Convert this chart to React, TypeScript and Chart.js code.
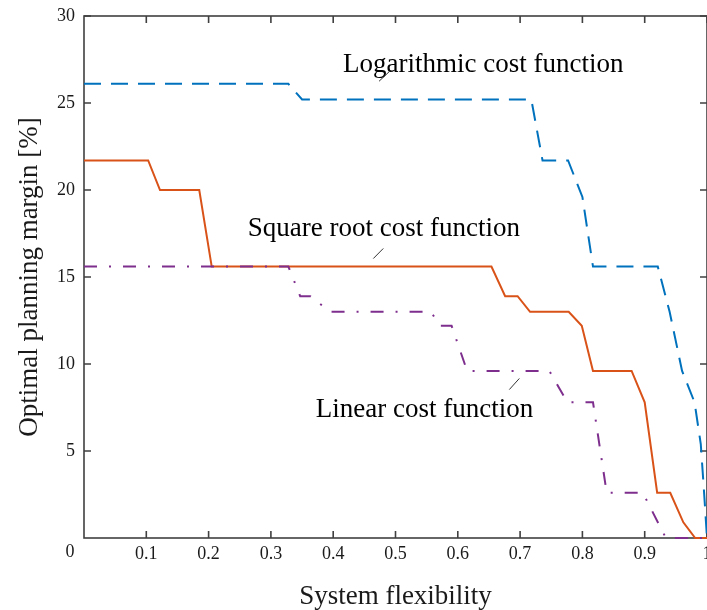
import React, { useEffect, useRef } from "react";
import { Chart, registerables } from "chart.js";

Chart.register(...registerables);

// System flexibility tick positions and optimal planning margin ticks
const flexTicks = [0.1, 0.2, 0.3, 0.4, 0.5, 0.6, 0.7, 0.8, 0.9, 1];
const marginTicks = [5, 10, 15, 20, 25, 30];

// Logarithmic cost function
const logX = [0, 0.328, 0.35, 0.718, 0.736, 0.777, 0.8, 0.817, 0.921, 0.94, 0.96, 0.98, 0.99, 0.995, 1.0];
const logY = [26.1, 26.1, 25.2, 25.2, 21.7, 21.7, 19.6, 15.6, 15.6, 13.0, 9.6, 7.8, 5.4, 2.8, 0];

// Square root cost function
const sqrtX = [0, 0.103, 0.122, 0.185, 0.205, 0.654, 0.676, 0.696, 0.716, 0.778, 0.799, 0.817, 0.879, 0.9, 0.92, 0.941, 0.962, 0.981, 1.0];
const sqrtY = [21.7, 21.7, 20.0, 20.0, 15.6, 15.6, 13.9, 13.9, 13.0, 13.0, 12.2, 9.6, 9.6, 7.8, 2.6, 2.6, 0.9, 0, 0];

// Linear cost function
const linX = [0, 0.328, 0.347, 0.363, 0.395, 0.557, 0.571, 0.59, 0.615, 0.747, 0.776, 0.817, 0.839, 0.897, 0.934, 1.0];
const linY = [15.6, 15.6, 13.9, 13.9, 13.0, 13.0, 12.2, 12.2, 9.6, 9.6, 7.8, 7.8, 2.6, 2.6, 0, 0];

const SERIF = '"Liberation Serif", "Times New Roman", Times, serif';
const AXIS_COLOR = "#404040";
const TEXT_COLOR = "#1a1a1a";
const TICK_LEN = 7;

const BLUE = "#0072BD";
const ORANGE = "#D95319";
const PURPLE = "#7E2F8E";

// Curve labels with short leader lines, placed in data units
const curveNotes = [
  { text: "Logarithmic cost function", at: [0.4157, 26.78], lead: [[0.4736, 26.25], [0.4896, 26.79]] },
  { text: "Square root cost function", at: [0.263, 17.35], lead: [[0.4644, 16.06], [0.4804, 16.64]] },
  { text: "Linear cost function", at: [0.372, 6.96], lead: [[0.6827, 8.53], [0.6988, 9.17]] },
];

const toPoints = (xs: number[], ys: number[]) => xs.map((x, i) => ({ x, y: ys[i] }));

const framePlugin = {
  id: "frame",
  beforeDatasetsDraw(chart: any) {
    const { ctx, chartArea, scales } = chart;
    const { left, right, top, bottom } = chartArea;
    const xs = scales.x;
    const ys = scales.y;
    ctx.save();
    ctx.strokeStyle = AXIS_COLOR;
    ctx.lineWidth = 1.6;
    ctx.strokeRect(left, top, right - left, bottom - top);
    ctx.beginPath();
    for (const v of flexTicks) {
      const px = xs.getPixelForValue(v);
      ctx.moveTo(px, bottom);
      ctx.lineTo(px, bottom - TICK_LEN);
      ctx.moveTo(px, top);
      ctx.lineTo(px, top + TICK_LEN);
    }
    for (const v of marginTicks) {
      const py = ys.getPixelForValue(v);
      ctx.moveTo(left, py);
      ctx.lineTo(left + TICK_LEN, py);
      ctx.moveTo(right, py);
      ctx.lineTo(right - TICK_LEN, py);
    }
    ctx.stroke();
    // shared origin label
    ctx.fillStyle = TEXT_COLOR;
    ctx.font = `18px ${SERIF}`;
    ctx.textAlign = "center";
    ctx.textBaseline = "middle";
    ctx.fillText("0", left - 14, bottom + 14);
    ctx.restore();
  },
};

const notesPlugin = {
  id: "curveNotes",
  afterDatasetsDraw(chart: any) {
    const { ctx, scales } = chart;
    const xs = scales.x;
    const ys = scales.y;
    ctx.save();
    ctx.font = `27px ${SERIF}`;
    ctx.fillStyle = "#000";
    ctx.textAlign = "left";
    ctx.textBaseline = "alphabetic";
    ctx.strokeStyle = "#333";
    ctx.lineWidth = 1;
    for (const n of curveNotes) {
      ctx.fillText(n.text, xs.getPixelForValue(n.at[0]), ys.getPixelForValue(n.at[1]));
      ctx.beginPath();
      ctx.moveTo(xs.getPixelForValue(n.lead[0][0]), ys.getPixelForValue(n.lead[0][1]));
      ctx.lineTo(xs.getPixelForValue(n.lead[1][0]), ys.getPixelForValue(n.lead[1][1]));
      ctx.stroke();
    }
    ctx.restore();
  },
};

export default function App() {
  const canvasRef = useRef<HTMLCanvasElement | null>(null);

  useEffect(() => {
    const canvas = canvasRef.current;
    if (!canvas) return;
    const chart = new Chart(canvas, {
      type: "line",
      data: {
        datasets: [
          {
            label: "Linear cost function",
            data: toPoints(linX, linY),
            borderColor: PURPLE,
            borderWidth: 2,
            borderDash: [13, 12, 2, 12],
            pointRadius: 0,
            tension: 0,
            fill: false,
            clip: 4,
            order: 0,
          },
          {
            label: "Square root cost function",
            data: toPoints(sqrtX, sqrtY),
            borderColor: ORANGE,
            borderWidth: 2,
            pointRadius: 0,
            tension: 0,
            fill: false,
            clip: 4,
            order: 1,
          },
          {
            label: "Logarithmic cost function",
            data: toPoints(logX, logY),
            borderColor: BLUE,
            borderWidth: 2,
            borderDash: [17, 10],
            pointRadius: 0,
            tension: 0,
            fill: false,
            clip: 4,
            order: 2,
          },
        ],
      },
      options: {
        animation: false,
        responsive: false,
        devicePixelRatio: 1,
        layout: { padding: { top: 16, right: 0, bottom: 0, left: 0 } },
        plugins: {
          legend: { display: false },
          tooltip: { enabled: false },
        },
        scales: {
          x: {
            type: "linear",
            min: 0,
            max: 1,
            afterBuildTicks: (s: any) => {
              s.ticks = flexTicks.map((v) => ({ value: v }));
            },
            afterFit: (s: any) => {
              s.height = 72;
              s.paddingLeft = 0;
              s.paddingRight = 0;
            },
            ticks: {
              autoSkip: false,
              maxRotation: 0,
              padding: 5,
              color: TEXT_COLOR,
              font: { family: SERIF, size: 18 },
              callback: (v: any) => String(v),
            },
            grid: { display: false, drawTicks: false },
            border: { display: false },
            title: {
              display: true,
              text: "System flexibility",
              color: TEXT_COLOR,
              font: { family: SERIF, size: 27, lineHeight: 1 },
              padding: { top: 0, bottom: 0 },
            },
          },
          y: {
            type: "linear",
            min: 0,
            max: 30,
            afterBuildTicks: (s: any) => {
              s.ticks = marginTicks.map((v) => ({ value: v }));
            },
            afterFit: (s: any) => {
              s.width = 84;
              s.paddingTop = 0;
              s.paddingBottom = 0;
            },
            ticks: {
              padding: 9,
              color: TEXT_COLOR,
              font: { family: SERIF, size: 18 },
              callback: (v: any) => String(v),
            },
            grid: { display: false, drawTicks: false },
            border: { display: false },
            title: {
              display: true,
              text: "Optimal planning margin [%]",
              color: TEXT_COLOR,
              font: { family: SERIF, size: 27, lineHeight: 1 },
              padding: { top: 16, bottom: 0 },
            },
          },
        },
      },
      plugins: [framePlugin, notesPlugin],
    });
    return () => chart.destroy();
  }, []);

  return (
    <div style={{ position: "fixed", left: 0, top: 0, width: 707, height: 610, background: "#fff" }}>
      <canvas ref={canvasRef} width={707} height={610} style={{ display: "block" }} />
    </div>
  );
}
